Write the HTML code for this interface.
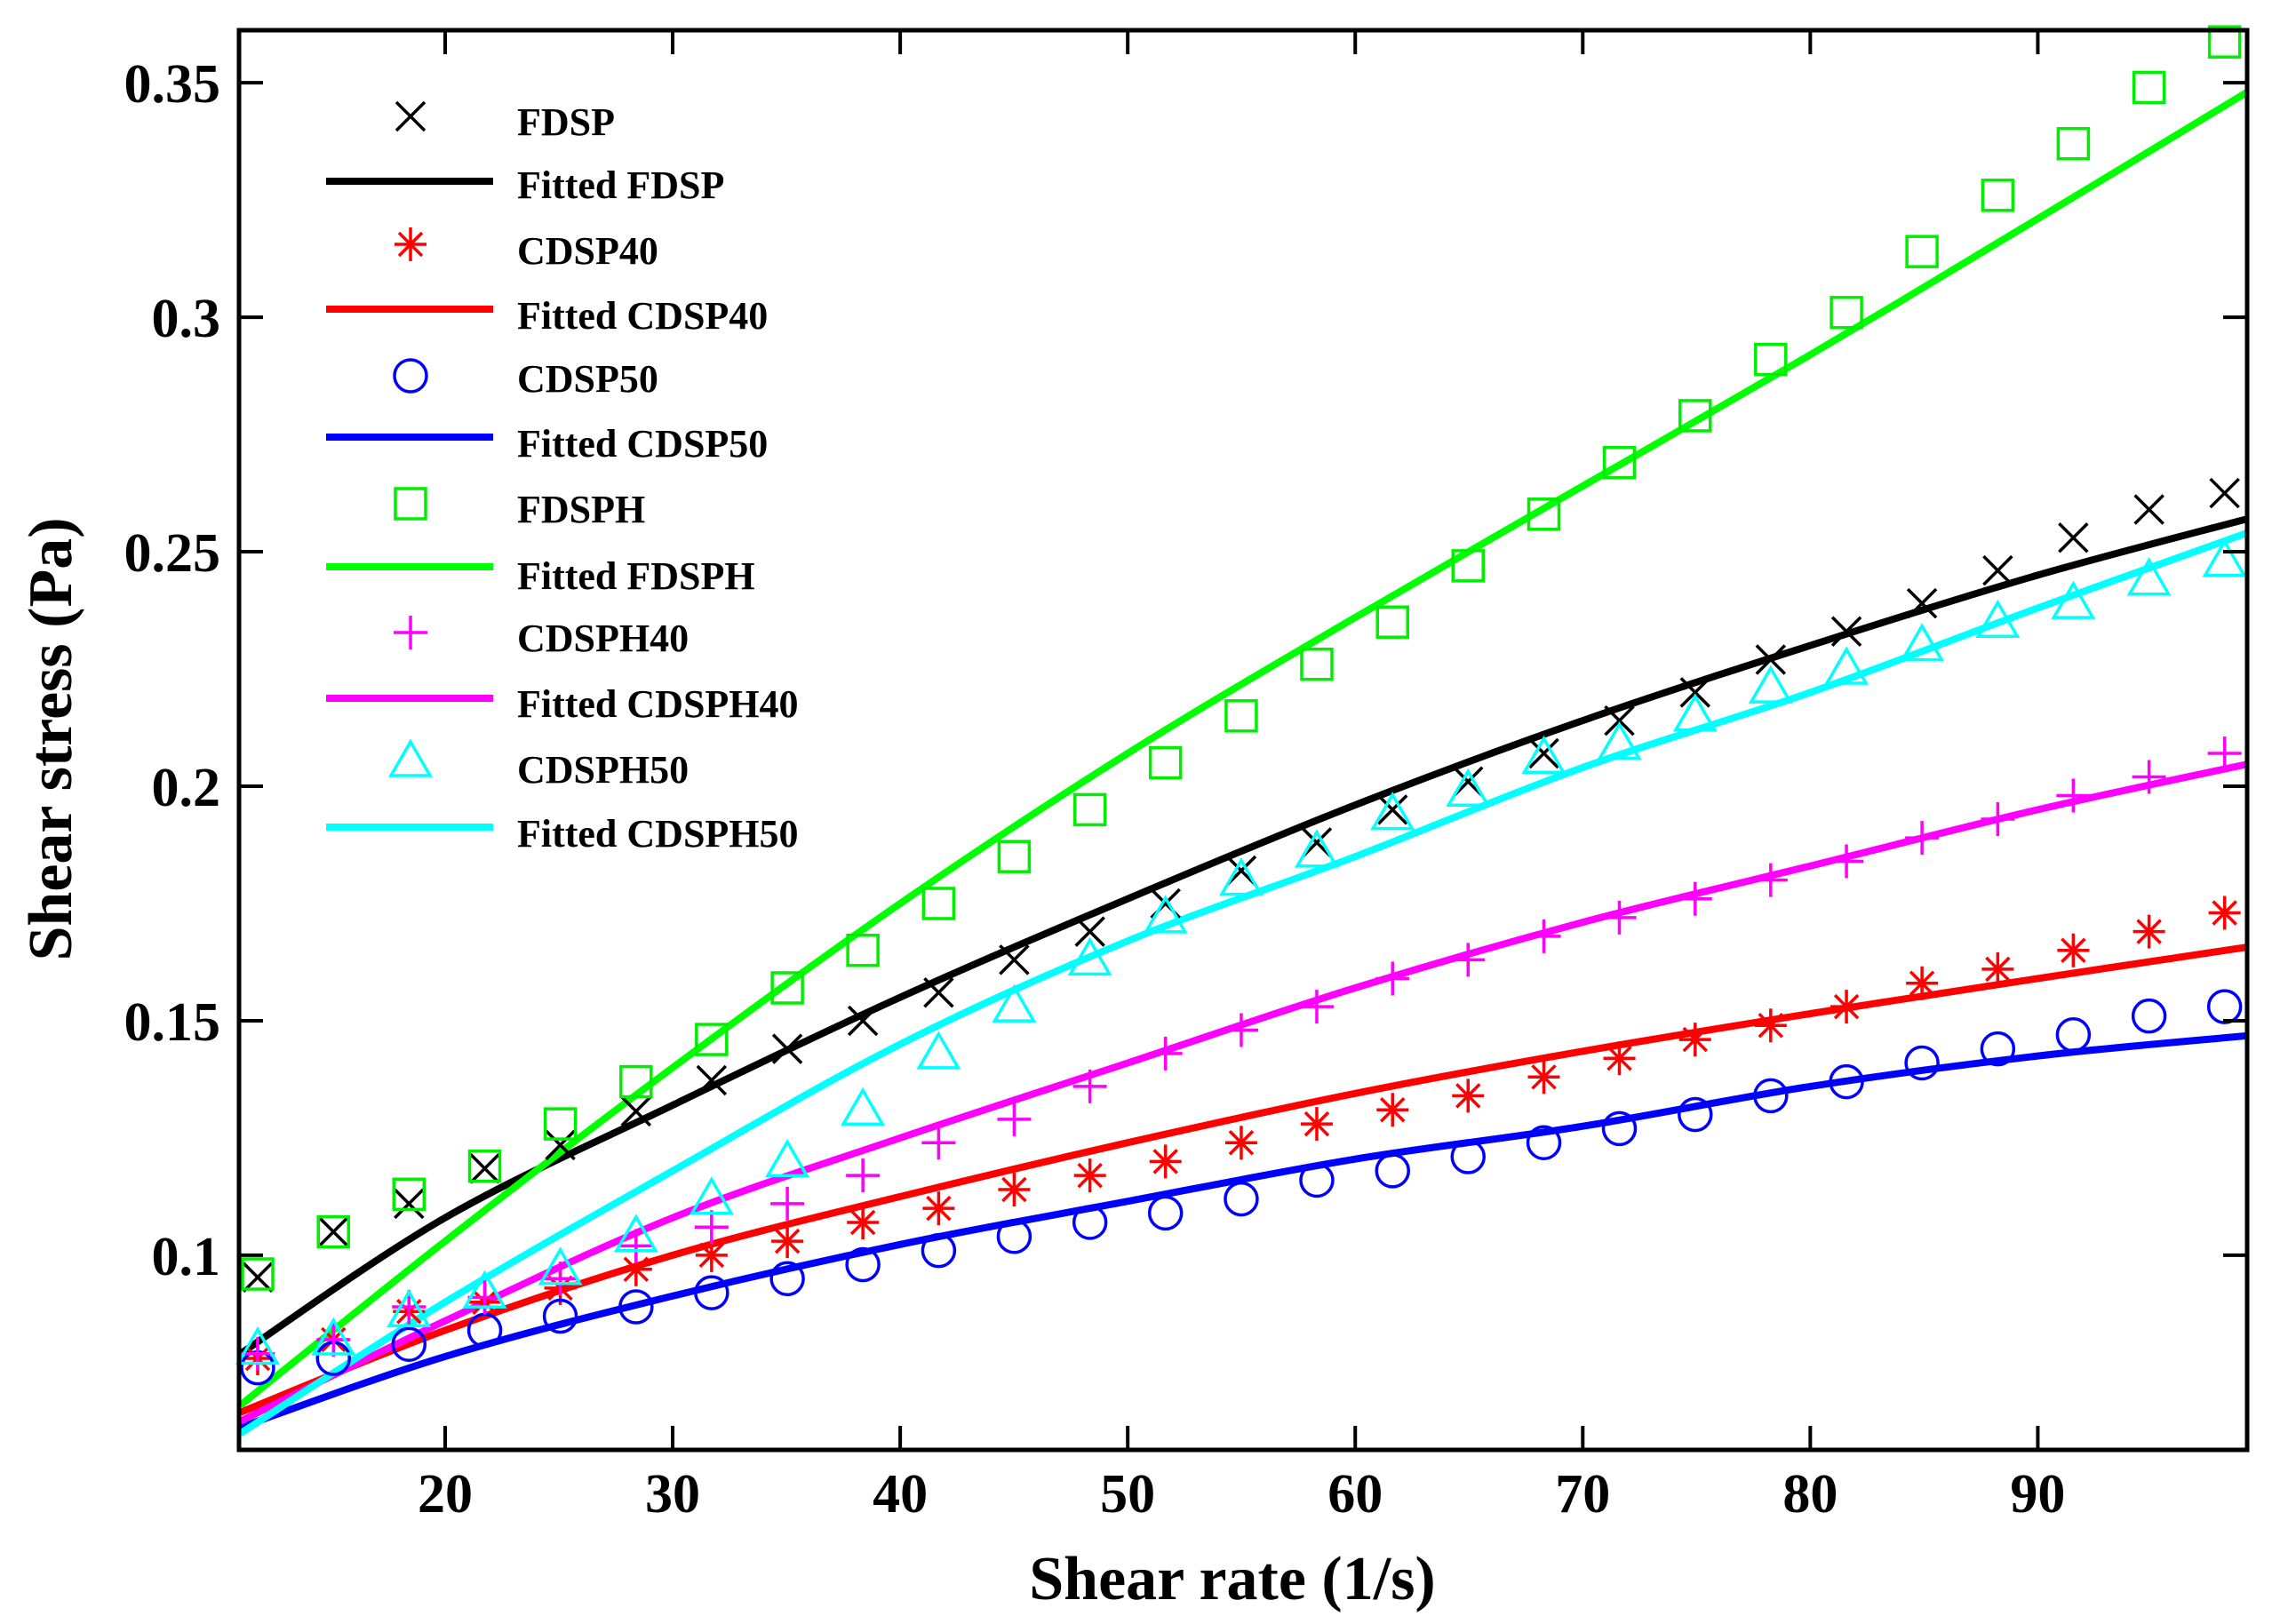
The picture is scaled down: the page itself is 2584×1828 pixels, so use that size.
<!DOCTYPE html>
<html><head><meta charset="utf-8"><style>
html,body{margin:0;padding:0;background:#fff;}
svg{display:block;}
text{font-family:"Liberation Serif",serif;font-weight:bold;fill:#000;}
</style></head><body>
<svg id="chart" width="2584" height="1828" viewBox="0 0 2584 1828" xmlns="http://www.w3.org/2000/svg">
<g id="plot"></g>
<g id="axes"></g>
<g id="legend"></g>
<text x="1387" y="1800" font-size="70" text-anchor="middle">Shear rate (1/s)</text>
<text x="0" y="0" font-size="70" text-anchor="middle" transform="translate(80,832) rotate(-90)">Shear stress (Pa)</text>
</svg>
<script>
const xPoints = [11.76,15.09,18.41,21.74,25.06,28.39,31.71,35.04,38.36,41.69,45.01,48.34,51.66,54.99,58.31,61.64,64.96,68.29,71.61,74.94,78.26,81.59,84.91,88.24,91.56,94.89,98.21];
const fdsp = [0.0953,0.105,0.111,0.1185,0.1235,0.1307,0.1373,0.144,0.150,0.156,0.163,0.169,0.175,0.182,0.188,0.195,0.201,0.207,0.214,0.220,0.227,0.233,0.239,0.246,0.253,0.259,0.2625];
const cdsp40 = [0.078,0.082,0.088,0.090,0.093,0.097,0.100,0.103,0.107,0.110,0.114,0.117,0.120,0.124,0.128,0.131,0.134,0.138,0.142,0.146,0.149,0.153,0.158,0.161,0.165,0.169,0.173];
const cdsp50 = [0.076,0.078,0.081,0.084,0.087,0.089,0.092,0.095,0.098,0.101,0.104,0.107,0.109,0.112,0.116,0.118,0.121,0.124,0.127,0.130,0.134,0.137,0.141,0.144,0.147,0.151,0.153];
const fdsph = [0.096,0.105,0.113,0.119,0.128,0.137,0.146,0.157,0.165,0.175,0.185,0.195,0.205,0.215,0.226,0.235,0.247,0.258,0.269,0.279,0.291,0.301,0.314,0.326,0.337,0.349,0.3587];
const cdsph40 = [0.079,0.082,0.089,0.091,0.095,0.102,0.106,0.111,0.117,0.124,0.129,0.136,0.143,0.148,0.153,0.159,0.163,0.168,0.172,0.176,0.180,0.184,0.189,0.193,0.198,0.202,0.207];
const cdsph50 = [0.080,0.082,0.088,0.092,0.097,0.104,0.112,0.120,0.131,0.143,0.153,0.163,0.172,0.180,0.186,0.194,0.199,0.206,0.209,0.215,0.221,0.225,0.230,0.235,0.239,0.244,0.248];
const xFit = [11,20,30,40,50,60,70,80,90,99.2];
const fitFdsp = [0.079,0.108,0.132,0.155,0.176,0.196,0.214,0.230,0.245,0.257];
const fitFdsph = [0.068,0.103,0.140,0.175,0.207,0.236,0.264,0.292,0.321,0.348];
const fitCdsph50 = [0.062,0.090,0.118,0.145,0.167,0.185,0.204,0.220,0.238,0.254];
const fitCdsph40 = [0.0646,0.086,0.108,0.125,0.141,0.157,0.171,0.183,0.195,0.2047];
const fitCdsp40 = [0.0665,0.084,0.100,0.1125,0.124,0.1345,0.1435,0.1515,0.159,0.1657];
const fitCdsp50 = [0.0633,0.0784,0.0913,0.1023,0.1115,0.1205,0.1275,0.136,0.1425,0.1468];
const xTicks = [20,30,40,50,60,70,80,90];
const yTicks = [0.1,0.15,0.2,0.25,0.3,0.35];
const yTickLabels = ["0.1","0.15","0.2","0.25","0.3","0.35"];

const L=269,R=2529,T=34,B=1632;
const X0=10.94,X1=99.2,Y0=0.0585,Y1=0.3612;
function sx(v){return L+(v-X0)/(X1-X0)*(R-L);}
function sy(v){return B-(v-Y0)/(Y1-Y0)*(B-T);}
const NS="http://www.w3.org/2000/svg";
function mk(tag,attrs,parent){const e=document.createElementNS(NS,tag);for(const k in attrs)e.setAttribute(k,attrs[k]);parent.appendChild(e);return e;}
const plot=document.getElementById('plot'),axes=document.getElementById('axes'),legend=document.getElementById('legend');

function smoothPath(pts){
  let d="M"+pts[0][0].toFixed(1)+","+pts[0][1].toFixed(1);
  for(let i=0;i<pts.length-1;i++){
    const p0=pts[Math.max(0,i-1)],p1=pts[i],p2=pts[i+1],p3=pts[Math.min(pts.length-1,i+2)];
    const c1=[p1[0]+(p2[0]-p0[0])/6,p1[1]+(p2[1]-p0[1])/6];
    const c2=[p2[0]-(p3[0]-p1[0])/6,p2[1]-(p3[1]-p1[1])/6];
    d+=" C"+c1[0].toFixed(1)+","+c1[1].toFixed(1)+" "+c2[0].toFixed(1)+","+c2[1].toFixed(1)+" "+p2[0].toFixed(1)+","+p2[1].toFixed(1);
  }
  return d;
}
function drawMarker(type,cx,cy,color,parent){
  const g=mk('g',{fill:'none',stroke:color,'stroke-width':3.5},parent);
  if(type==='x'){mk('path',{d:`M${cx-16},${cy-16}L${cx+16},${cy+16}M${cx-16},${cy+16}L${cx+16},${cy-16}`},g);}
  else if(type==='star'){mk('path',{d:`M${cx},${cy-19}V${cy+19}M${cx-18},${cy}H${cx+18}M${cx-13},${cy-13}L${cx+13},${cy+13}M${cx-13},${cy+13}L${cx+13},${cy-13}`},g);}
  else if(type==='circle'){mk('circle',{cx:cx,cy:cy,r:18},g);}
  else if(type==='square'){mk('rect',{x:cx-17,y:cy-17,width:34,height:34},g);}
  else if(type==='plus'){mk('path',{d:`M${cx},${cy-19}V${cy+19}M${cx-19},${cy}H${cx+19}`},g);}
  else if(type==='tri'){mk('path',{d:`M${cx},${cy-22}L${cx+22},${cy+16}L${cx-22},${cy+16}Z`},g);}
  return g;
}
const fits=[
 {name:'fitted-cdsp50',vals:fitCdsp50,color:'#0000ff'},
 {name:'fitted-cdsp40',vals:fitCdsp40,color:'#ff0000'},
 {name:'fitted-cdsph40',vals:fitCdsph40,color:'#ff00ff'},
 {name:'fitted-cdsph50',vals:fitCdsph50,color:'#00ffff'},
 {name:'fitted-fdsp',vals:fitFdsp,color:'#000000'},
 {name:'fitted-fdsph',vals:fitFdsph,color:'#00ff00'}
];
const clip=mk('clipPath',{id:'pc'},mk('defs',{},document.getElementById('chart')));
mk('rect',{x:L,y:T,width:R-L,height:B-T},clip);
const lineG=mk('g',{'clip-path':'url(#pc)'},plot);
fits.forEach(f=>{
  const p=mk('path',{d:smoothPath(xFit.map((x,i)=>[sx(x),sy(f.vals[i])])),fill:'none',stroke:f.color,'stroke-width':8,'stroke-linejoin':'round'},lineG);
  
  
});
const series=[
 {name:'fdsp',vals:fdsp,type:'x',color:'#000000'},
 {name:'cdsp40',vals:cdsp40,type:'star',color:'#ff0000'},
 {name:'cdsp50',vals:cdsp50,type:'circle',color:'#0000ff'},
 {name:'fdsph',vals:fdsph,type:'square',color:'#00ee00'},
 {name:'cdsph40',vals:cdsph40,type:'plus',color:'#ff00ff'},
 {name:'cdsph50',vals:cdsph50,type:'tri',color:'#00ffff'}
];
series.forEach(s=>{
  s.vals.forEach((v,i)=>{
    const m=drawMarker(s.type,sx(xPoints[i]),sy(v),s.color,plot);
    
    
  });
});
const frame=mk('rect',{x:L,y:T,width:R-L,height:B-T,fill:'none',stroke:'#000','stroke-width':5},axes);


xTicks.forEach(t=>{
  const x=sx(t);
  mk('line',{x1:x,y1:B,x2:x,y2:B-27,stroke:'#000','stroke-width':4},axes);
  mk('line',{x1:x,y1:T,x2:x,y2:T+27,stroke:'#000','stroke-width':4},axes);
  const tl=mk('text',{x:x,y:1702,'font-size':62,'text-anchor':'middle'},axes);
  tl.textContent=String(t);
  
  
});
yTicks.forEach((t,i)=>{
  const y=sy(t);
  mk('line',{x1:L,y1:y,x2:L+27,y2:y,stroke:'#000','stroke-width':4},axes);
  mk('line',{x1:R,y1:y,x2:R-27,y2:y,stroke:'#000','stroke-width':4},axes);
  const tl=mk('text',{x:248,y:y+22,'font-size':62,'text-anchor':'end'},axes);
  tl.textContent=yTickLabels[i];
  
  
});
const legRows=[
 {kind:'m',type:'x',color:'#000000',label:'FDSP',y:131,by:152},
 {kind:'l',color:'#000000',label:'Fitted FDSP',y:204,by:223},
 {kind:'m',type:'star',color:'#ff0000',label:'CDSP40',y:275,by:297},
 {kind:'l',color:'#ff0000',label:'Fitted CDSP40',y:348,by:370},
 {kind:'m',type:'circle',color:'#0000ff',label:'CDSP50',y:423,by:441},
 {kind:'l',color:'#0000ff',label:'Fitted CDSP50',y:492,by:514},
 {kind:'m',type:'square',color:'#00ee00',label:'FDSPH',y:567,by:588},
 {kind:'l',color:'#00ff00',label:'Fitted FDSPH',y:638,by:663},
 {kind:'m',type:'plus',color:'#ff00ff',label:'CDSPH40',y:712,by:733},
 {kind:'l',color:'#ff00ff',label:'Fitted CDSPH40',y:786,by:807},
 {kind:'m',type:'tri',color:'#00ffff',label:'CDSPH50',y:857,by:881},
 {kind:'l',color:'#00ffff',label:'Fitted CDSPH50',y:931,by:953}
];
legRows.forEach(r=>{
  const g=mk('g',{},legend);
  
  
  if(r.kind==='m') drawMarker(r.type,462,r.y,r.color,g);
  else mk('line',{x1:367,y1:r.y,x2:555,y2:r.y,stroke:r.color,'stroke-width':8},g);
  const t=mk('text',{x:582,y:r.by,'font-size':44},g);
  t.textContent=r.label;
});
</script>
</body></html>
